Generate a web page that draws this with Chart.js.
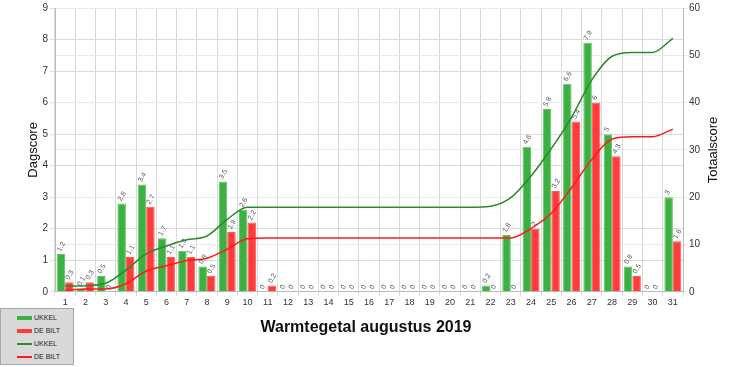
<!DOCTYPE html>
<html>
<head>
<meta charset="utf-8">
<script src="https://cdn.jsdelivr.net/npm/chart.js@4.4.1/dist/chart.umd.min.js"></script>
<style>
  html, body { margin: 0; padding: 0; background: #fff; }
  #wrap { position: relative; width: 732px; height: 367px; }
  #legend { position: absolute; left: 0; top: 308px; width: 74px; height: 57px;
    background: #d9d9d9; border: 1px solid #a8a8a8; box-sizing: border-box;
    font-family: "Liberation Sans", Arial, sans-serif; font-size: 7px; color: #222; }
  .row { position: absolute; left: 16px; height: 10px; line-height: 10px; }
  .sw { display: inline-block; vertical-align: middle; width: 15px; margin-right: 2px; }
</style>
</head>
<body>
<div id="wrap">
  <canvas id="c" width="732" height="367"></canvas>
  <div id="legend">
    <div class="row" style="top:4px"><span class="sw" style="height:4px;background:#3cb043"></span>UKKEL</div>
    <div class="row" style="top:17px"><span class="sw" style="height:4px;background:#ff3b3b"></span>DE BILT</div>
    <div class="row" style="top:30px"><span class="sw" style="height:1.5px;background:#2a8a2a"></span>UKKEL</div>
    <div class="row" style="top:43px"><span class="sw" style="height:1.5px;background:#ff1a1a"></span>DE BILT</div>
  </div>
</div>
<script>
const days = ["1","2","3","4","5","6","7","8","9","10","11","12","13","14","15","16","17","18","19","20","21","22","23","24","25","26","27","28","29","30","31"];
const ukkelDay = [1.2,0.1,0.5,2.8,3.4,1.7,1.3,0.8,3.5,2.6,0,0,0,0,0,0,0,0,0,0,0,0.2,1.8,4.6,5.8,6.6,7.9,5,0.8,0,3];
const debiltDay = [0.3,0.3,0,1.1,2.7,1.1,1.1,0.5,1.9,2.2,0.2,0,0,0,0,0,0,0,0,0,0,0,0,2,3.2,5.4,6,4.3,0.5,0,1.6];
const ukkelTotal = [1.2,1.3,1.8,4.6,8.0,9.7,11.0,11.8,15.3,17.9,17.9,17.9,17.9,17.9,17.9,17.9,17.9,17.9,17.9,17.9,17.9,18.1,19.9,24.5,30.3,36.9,44.8,49.8,50.6,50.6,53.6];
const debiltTotal = [0.3,0.6,0.6,1.7,4.4,5.5,6.6,7.1,9.0,11.2,11.4,11.4,11.4,11.4,11.4,11.4,11.4,11.4,11.4,11.4,11.4,11.4,11.4,13.4,16.6,22.0,28.0,32.3,32.8,32.8,34.4];
const leftTicks = [0,1,2,3,4,5,6,7,8,9];
const rightTicks = [0,10,20,30,40,50,60];

const FONT = "'Liberation Sans', Arial, sans-serif";

const labelPlugin = {
  id: 'barLabels',
  afterDatasetsDraw(chart) {
    const ctx = chart.ctx;
    ctx.save();
    ctx.font = "7px " + FONT;
    ctx.fillStyle = "#555";
    ctx.textAlign = "left";
    ctx.textBaseline = "middle";
    chart.data.datasets.forEach((ds, i) => {
      if (ds.type !== 'bar') return;
      const meta = chart.getDatasetMeta(i);
      meta.data.forEach((el, j) => {
        const v = ds.data[j];
        ctx.save();
        ctx.translate(el.x - 2, el.y - 3);
        ctx.rotate(-Math.PI / 3);
        ctx.fillText(String(v), 0, 0);
        ctx.restore();
      });
    });
    // axis titles
    ctx.fillStyle = "#111";
    ctx.font = "13px " + FONT;
    ctx.textAlign = "center";
    ctx.textBaseline = "middle";
    const cy = (chart.chartArea.top + chart.chartArea.bottom) / 2;
    ctx.save(); ctx.translate(33, cy); ctx.rotate(-Math.PI/2); ctx.fillText("Dagscore", 0, 0); ctx.restore();
    ctx.save(); ctx.translate(713, cy); ctx.rotate(-Math.PI/2); ctx.fillText("Totaalscore", 0, 0); ctx.restore();
    ctx.restore();
  }
};

new Chart(document.getElementById('c'), {
  data: {
    labels: days,
    datasets: [
      { type: 'line', label: 'UKKEL', data: ukkelTotal, yAxisID: 'y2', borderColor: '#2a8a2a', borderWidth: 1.5, pointRadius: 0, cubicInterpolationMode: 'monotone', order: 0 },
      { type: 'line', label: 'DE BILT', data: debiltTotal, yAxisID: 'y2', borderColor: '#ff1a1a', borderWidth: 1.5, pointRadius: 0, cubicInterpolationMode: 'monotone', order: 0 },
      { type: 'bar', label: 'UKKEL', data: ukkelDay, yAxisID: 'y', backgroundColor: '#3cb043', borderColor: '#5cc55f', borderWidth: {left:1,right:1,top:1,bottom:0}, order: 1 },
      { type: 'bar', label: 'DE BILT', data: debiltDay, yAxisID: 'y', backgroundColor: '#ff3b3b', borderColor: '#ff5a5a', borderWidth: {left:1,right:1,top:1,bottom:0}, order: 1 }
    ]
  },
  options: {
    responsive: false,
    animation: false,
    layout: { padding: { top: 7, left: 0, right: 0, bottom: 0 } },
    datasets: { bar: { barPercentage: 1.0, categoryPercentage: 0.84 } },
    plugins: {
      legend: { display: false },
      tooltip: { enabled: false },
      title: { display: true, text: 'Warmtegetal augustus 2019', position: 'bottom', color: '#111',
        font: { family: FONT, size: 16, weight: 'bold' }, padding: { top: 12, bottom: 30 } }
    },
    scales: {
      x: {
        offset: true,
        grid: { offset: true, color: '#d9d9d9', tickLength: 4, drawTicks: true },
        border: { color: '#bbb' },
        ticks: { color: '#333', font: { family: FONT, size: 9 }, maxRotation: 0, autoSkip: false, padding: 1 },
        afterFit(s) { s.height = 14; }
      },
      y: {
        position: 'left', min: 0, max: 9,
        afterBuildTicks(s) { s.ticks = leftTicks.map(v => ({ value: v })); },
        grid: { color: '#dcdcdc', tickLength: 5 },
        border: { color: '#bbb' },
        ticks: { color: '#333', font: { family: FONT, size: 10 }, padding: 2 },
        afterFit(s) { s.width = 55; }
      },
      y2: {
        position: 'right', min: 0, max: 60,
        afterBuildTicks(s) { s.ticks = rightTicks.map(v => ({ value: v })); },
        grid: { color: '#ebebeb', tickLength: 4 },
        border: { color: '#bbb' },
        ticks: { color: '#333', font: { family: FONT, size: 10 }, padding: 2 },
        afterFit(s) { s.width = 49; }
      }
    }
  },
  plugins: [labelPlugin]
});
</script>
</body>
</html>
